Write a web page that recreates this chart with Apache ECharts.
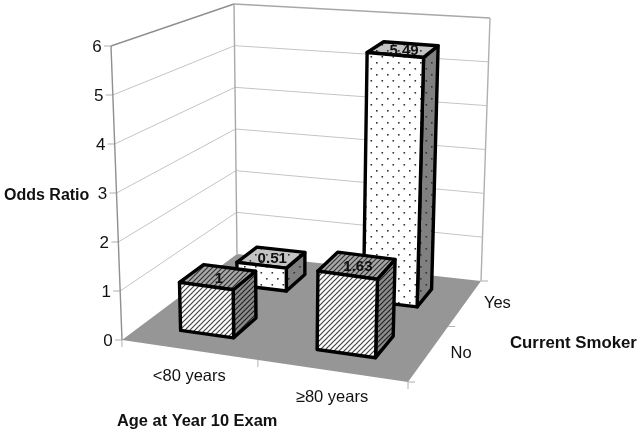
<!DOCTYPE html>
<html><head><meta charset="utf-8">
<style>html,body{margin:0;padding:0;background:#fff}#c{width:640px;height:433px}</style>
<script src="https://cdn.jsdelivr.net/npm/echarts@6/dist/echarts.min.js"></script></head>
<body><div id="c"></div>
<script>
const ageCategories = ['<80 years', '≥80 years'];
const smokerCategories = ['No', 'Yes'];
const valuesNo = [1, 1.63];
const valuesYes = [0.51, 5.49];
const yTicks = [0, 1, 2, 3, 4, 5, 6];
const yMax = 6;

// box corners on the page
const A=[122,340],B=[408,382],C=[481,281],D=[237,254],Atop=[111,46],Dtop=[234,4],Ctop=[490,18],Btop=[418,88];
const barW=0.2, barD=0.2;
const FONT='"Liberation Sans",Arial,sans-serif';

const sx=A[0]-B[0]+C[0]-D[0], sy=A[1]-B[1]+C[1]-D[1];
const dx1=B[0]-C[0], dx2=D[0]-C[0], dy1=B[1]-C[1], dy2=D[1]-C[1];
const det=dx1*dy2-dx2*dy1;
const g=(sx*dy2-dx2*sy)/det, h=(dx1*sy-sx*dy1)/det;
const a=B[0]-A[0]+g*B[0], b=D[0]-A[0]+h*D[0], c0=A[0];
const d=B[1]-A[1]+g*B[1], e=D[1]-A[1]+h*D[1], f0=A[1];
function mix(i,x,y){
  const off=p=>p[0][i]-p[1][i];
  return (1-x)*(1-y)*off([Atop,A])+x*(1-y)*off([Btop,B])+x*y*off([Ctop,C])+(1-x)*y*off([Dtop,D]);
}
function P(x,y,z){
  const w=g*x+h*y+1;
  return [(a*x+b*y+c0)/w+z*mix(0,x,y),(d*x+e*y+f0)/w+z*mix(1,x,y)];
}

function tile(w,h2,bg,draw){
  const cv=document.createElement('canvas');cv.width=w;cv.height=h2;
  const x=cv.getContext('2d');x.fillStyle=bg;x.fillRect(0,0,w,h2);draw(x);return cv;
}
function hatch(bg,col){
  return {image:tile(5,5,bg,x=>{x.strokeStyle=col;x.lineWidth=1.2;
    [[-1,6,6,-1],[-6,6,6,-6],[-1,11,11,-1]].forEach(l=>{x.beginPath();x.moveTo(l[0],l[1]);x.lineTo(l[2],l[3]);x.stroke();});
  }),repeat:'repeat'};
}
function dots(bg){
  return {image:tile(11,12,bg,x=>{x.fillStyle='#333';x.fillRect(2,2,1.6,1.6);x.fillRect(7.5,8,1.6,1.6);}),repeat:'repeat'};
}
const fills={
  0:{front:hatch('#ffffff','#444'),top:hatch('#a8a8a8','#333'),side:hatch('#8c8c8c','#222')},
  1:{front:dots('#ffffff'),top:dots('#c4c4c4'),side:dots('#808080')}
};

function poly(points,fill,stroke,lw){
  return {type:'polygon',silent:true,shape:{points},style:{fill:fill||'none',stroke:stroke||'none',lineWidth:lw||0,lineJoin:'round'}};
}
function line(p,q,col,lw){
  return {type:'line',silent:true,shape:{x1:p[0],y1:p[1],x2:q[0],y2:q[1]},style:{stroke:col,lineWidth:lw}};
}
function text(s,x,y,font,align){
  return {type:'text',silent:true,style:{text:s,x,y,align:align||'center',verticalAlign:'middle',font,fill:'#111'}};
}

function renderFrame(params,api){
  const ch=[];
  const cs=params.coordSys;
  ch.push(poly([P(0,0,0),P(1,0,0),P(1,1,0),P(0,1,0)],'#969696'));
  yTicks.forEach(v=>{
    const z=(api.coord([0,0])[1]-api.coord([0,v])[1])/cs.height;
    const p=P(0,0,z),q=P(0,1,z),r=P(1,1,z);
    if(v>0){ch.push(line(p,q,v===yMax?'#8f8f8f':'#c4c4c4',v===yMax?1.4:1));ch.push(line(q,r,v===yMax?'#a8a8a8':'#c4c4c4',v===yMax?1.4:1));}
    ch.push(line([p[0]-7,p[1]],p,'#b0b0b0',1));
    ch.push(text(String(v),p[0]-14,p[1]+1,'17px '+FONT));
  });
  ch.push(line(P(0,0,0),P(0,0,1),'#8f8f8f',1.4));
  ch.push(line(P(0,1,0),P(0,1,1),'#a8a8a8',1.4));
  ch.push(line(P(1,1,0),P(1,1,1),'#b0b0b0',1.4));
  // floor ticks
  [0,0.5,1].forEach(x=>{const p=P(x,0,0);ch.push(line(p,[p[0],p[1]+7],'#b0b0b0',1));});
  [0,0.5,1].forEach(y=>{const p=P(1,y,0);ch.push(line(p,[p[0]+7,p[1]],'#b0b0b0',1));});
  ageCategories.forEach((s,i)=>{
    const p=P((i+.5)/2,0,0);
    ch.push(text(s,p[0]+1,p[1]+27,'16.5px '+FONT));
  });
  smokerCategories.forEach((s,i)=>{
    const p=P(1,(i+.5)/2,0);
    ch.push(text(s,p[0]+32,p[1]+1,'16.5px '+FONT));
  });
  ch.push(text('Odds Ratio',4,196,'bold 16px '+FONT,'left'));
  ch.push(text('Age at Year 10 Exam',117,421,'bold 16.4px '+FONT,'left'));
  ch.push(text('Current Smoker',510,343,'bold 16.8px '+FONT,'left'));
  return {type:'group',children:ch};
}

function renderBar(params,api){
  const cs=params.coordSys;
  const xi=api.value(0),v=api.value(1),di=api.value(2);
  const base=api.coord([xi,0]),top=api.coord([xi,v]);
  const nx=(base[0]-cs.x)/cs.width, nd=(di+.5)/2, z=(base[1]-top[1])/cs.height;
  const x0=nx-barW/2,x1=nx+barW/2,y0=nd-barD/2,y1=nd+barD/2;
  const fl=fills[di], S='#000', W=3.4;
  const ch=[
    poly([P(x1,y0,0),P(x1,y1,0),P(x1,y1,z),P(x1,y0,z)],fl.side,S,W),
    poly([P(x0,y0,z),P(x1,y0,z),P(x1,y1,z),P(x0,y1,z)],fl.top,S,W),
    poly([P(x0,y0,0),P(x1,y0,0),P(x1,y0,z),P(x0,y0,z)],fl.front,S,W)
  ];
  const c=P(nx,nd,z);
  ch.push(text(String(v),c[0]+1,c[1]+2,'bold 15px '+FONT));
  return {type:'group',children:ch};
}

const barData=[];
[valuesYes,valuesNo].forEach((vals,k)=>{
  const di=k===0?1:0;
  vals.forEach((v,i)=>barData.push([i,v,di]));
});

const chart=echarts.init(document.getElementById('c'),null,{renderer:'canvas'});
chart.setOption({
  animation:false,
  grid:{left:122,top:46,width:286,height:294},
  xAxis:{type:'category',data:ageCategories,show:false},
  yAxis:{type:'value',min:0,max:yMax,interval:1,show:false},
  series:[
    {type:'custom',data:[[0,0]],renderItem:renderFrame,clip:false,silent:true,z:1},
    {type:'custom',data:barData,renderItem:renderBar,clip:false,silent:true,z:2,encode:{x:0,y:1}}
  ]
});
</script></body></html>
